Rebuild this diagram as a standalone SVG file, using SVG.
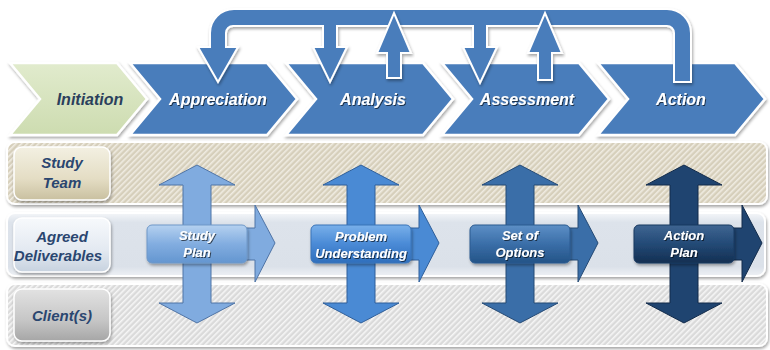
<svg xmlns="http://www.w3.org/2000/svg" width="770" height="350" viewBox="0 0 770 350">
<style>
.lbl{font-family:"Liberation Sans",Arial,sans-serif;font-weight:bold;font-style:italic;text-anchor:middle}
.phase{font-size:16px;fill:#ffffff}
.lane{font-size:15px;fill:#2a4670}
.box{font-size:13px;fill:#ffffff}
.chev{fill:#4a7dbb;stroke:#ffffff;stroke-width:2.5;stroke-linejoin:miter}
.loop{fill:#4a7dbb;stroke:#ffffff;stroke-width:2;stroke-linejoin:miter}
</style>
<defs>
<filter id="sh" x="-10%" y="-10%" width="120%" height="130%">
<feDropShadow dx="1" dy="2" stdDeviation="1.5" flood-color="#000" flood-opacity="0.35"/>
</filter>
<filter id="tsh" x="-10%" y="-20%" width="120%" height="150%">
<feDropShadow dx="1" dy="1" stdDeviation="0.7" flood-color="#000" flood-opacity="0.6"/>
</filter>
<pattern id="hatchT" width="4" height="4" patternUnits="userSpaceOnUse" patternTransform="rotate(45)">
<rect width="4" height="4" fill="#d6cfbb"/><rect width="1.6" height="4" fill="#f0ece2"/>
</pattern>
<pattern id="hatchC" width="4" height="4" patternUnits="userSpaceOnUse" patternTransform="rotate(45)">
<rect width="4" height="4" fill="#dadada"/><rect width="1.6" height="4" fill="#f6f6f6"/>
</pattern>
<linearGradient id="gLaneA" x1="0" y1="0" x2="0" y2="1">
<stop offset="0" stop-color="#f4f6f9"/><stop offset="0.15" stop-color="#dde3eb"/><stop offset="0.85" stop-color="#dbe1e9"/><stop offset="1" stop-color="#eef1f5"/>
</linearGradient>
<linearGradient id="gT" x1="0" y1="0" x2="0" y2="1">
<stop offset="0" stop-color="#f3f0e2"/><stop offset="0.6" stop-color="#e4ddc4"/><stop offset="1" stop-color="#c9c0a0"/>
</linearGradient>
<linearGradient id="gA" x1="0" y1="0" x2="0" y2="1">
<stop offset="0" stop-color="#f7f9fc"/><stop offset="0.6" stop-color="#e3e9f1"/><stop offset="1" stop-color="#c7d2df"/>
</linearGradient>
<linearGradient id="gC" x1="0" y1="0" x2="0" y2="1">
<stop offset="0" stop-color="#e2e2e2"/><stop offset="0.6" stop-color="#c6c6c6"/><stop offset="1" stop-color="#a6a6a6"/>
</linearGradient>
<linearGradient id="gInit" x1="0" y1="0" x2="0" y2="1">
<stop offset="0" stop-color="#e1ebcd"/><stop offset="1" stop-color="#cddcb0"/>
</linearGradient>
<linearGradient id="b1" x1="0" y1="0" x2="0" y2="1">
<stop offset="0" stop-color="#b5d1f0"/><stop offset="0.5" stop-color="#82ade0"/><stop offset="1" stop-color="#6496d0"/>
</linearGradient>
<linearGradient id="b2" x1="0" y1="0" x2="0" y2="1">
<stop offset="0" stop-color="#79b0ea"/><stop offset="0.5" stop-color="#4a8ad6"/><stop offset="1" stop-color="#2f6fbc"/>
</linearGradient>
<linearGradient id="b3" x1="0" y1="0" x2="0" y2="1">
<stop offset="0" stop-color="#5d8fc6"/><stop offset="0.5" stop-color="#3a6ea8"/><stop offset="1" stop-color="#245487"/>
</linearGradient>
<linearGradient id="b4" x1="0" y1="0" x2="0" y2="1">
<stop offset="0" stop-color="#3f6592"/><stop offset="0.5" stop-color="#234a76"/><stop offset="1" stop-color="#142f52"/>
</linearGradient>
</defs>

<rect width="770" height="350" fill="#ffffff"/>

<!-- Lanes -->
<g id="lane-study-team">
<rect x="7" y="142" width="760" height="62" rx="8" fill="url(#hatchT)" stroke="#ffffff" stroke-width="2" filter="url(#sh)"/>
<rect x="14" y="147" width="96" height="53" rx="8" fill="url(#gT)" stroke="#ffffff" stroke-width="1.5" filter="url(#sh)"/>
<text class="lbl lane" x="62" y="168">Study</text>
<text class="lbl lane" x="62" y="188">Team</text>
</g>
<g id="lane-agreed-deliverables">
<rect x="7" y="213" width="758" height="63" rx="8" fill="url(#gLaneA)" stroke="#ffffff" stroke-width="2" filter="url(#sh)"/>
<rect x="14" y="218" width="96" height="54" rx="8" fill="url(#gA)" stroke="#ffffff" stroke-width="1.5" filter="url(#sh)"/>
<text class="lbl lane" x="62" y="242">Agreed</text>
<text class="lbl lane" x="58" y="261">Deliverables</text>
</g>
<g id="lane-clients">
<rect x="7" y="284" width="760" height="62" rx="8" fill="url(#hatchC)" stroke="#ffffff" stroke-width="2" filter="url(#sh)"/>
<rect x="14" y="289" width="96" height="52" rx="8" fill="url(#gC)" stroke="#ffffff" stroke-width="1.5" filter="url(#sh)"/>
<text class="lbl lane" x="62" y="321">Client(s)</text>
</g>

<!-- Phase chevrons -->
<g id="phase-initiation">
<path d="M10,63 L117,63 L147,99 L117,135 L10,135 L40,99 Z" fill="url(#gInit)" stroke="#ffffff" stroke-width="2.5" filter="url(#sh)"/>
<text class="lbl" x="90" y="105" font-size="16" fill="#2a3f5c">Initiation</text>
</g>
<g id="phase-appreciation">
<path class="chev" d="M130,63 L267,63 L297,99 L267,135 L130,135 L160,99 Z" filter="url(#sh)"/>
<text class="lbl phase" x="218" y="105" filter="url(#tsh)">Appreciation</text>
</g>
<g id="phase-analysis">
<path class="chev" d="M286,63 L423,63 L453,99 L423,135 L286,135 L316,99 Z" filter="url(#sh)"/>
<text class="lbl phase" x="373" y="105" filter="url(#tsh)">Analysis</text>
</g>
<g id="phase-assessment">
<path class="chev" d="M442,63 L579,63 L609,99 L579,135 L442,135 L472,99 Z" filter="url(#sh)"/>
<text class="lbl phase" x="527" y="105" filter="url(#tsh)">Assessment</text>
</g>
<g id="phase-action">
<path class="chev" d="M598,63 L735,63 L765,99 L735,135 L598,135 L628,99 Z" filter="url(#sh)"/>
<text class="lbl phase" x="681" y="105" filter="url(#tsh)">Action</text>
</g>

<!-- Connectors -->
<g id="connectors">
<path class="loop" filter="url(#sh)" d="M674,82 L674,33 A7,7 0 0 0 667,26 L487,26 L487,47 L497,47 L480,83 L463,47 L473,47 L473,26 L337,26 L337,47 L347,47 L330,82 L313,47 L323,47 L323,26 L233,26 A7,7 0 0 0 226,33 L226,47 L238,47 L218,82 L198,47 L210,47 L210,33 A24,24 0 0 1 234,9 L667,9 A24,24 0 0 1 691,33 L691,82 Z"/>
<path class="loop" filter="url(#sh)" d="M387,78 L387,53 L377,53 L394,13 L411,53 L401,53 L401,78 Z"/>
<path class="loop" filter="url(#sh)" d="M538,80 L538,53 L528,53 L545,13 L562,53 L552,53 L552,80 Z"/>
<path fill="#80abdf" stroke="#4f74a6" stroke-width="1" d="M197,165 L235,185 L211,185 L211,303 L235,303 L197,323 L159,303 L183,303 L183,185 L159,185 Z"/>
<path fill="#4a8ad4" stroke="#2f5f9a" stroke-width="1" d="M361,165 L399,185 L375,185 L375,303 L399,303 L361,323 L323,303 L347,303 L347,185 L323,185 Z"/>
<path fill="#3a6ea8" stroke="#254a75" stroke-width="1" d="M520,165 L558,185 L534,185 L534,303 L558,303 L520,323 L482,303 L506,303 L506,185 L482,185 Z"/>
<path fill="#1f4470" stroke="#122b4a" stroke-width="1" d="M684,165 L722,185 L698,185 L698,303 L722,303 L684,323 L646,303 L670,303 L670,185 L646,185 Z"/>
</g>

<!-- Deliverables -->
<g id="deliverable-study-plan">
<path fill="#80abdf" stroke="#4f74a6" stroke-width="1" d="M237,228 L255,228 L255,205 L275,243 L255,282 L255,260 L237,260 Z"/>
<rect x="147" y="225" width="100" height="38" rx="5" fill="url(#b1)" stroke="#6f98c8" stroke-width="1" filter="url(#sh)"/>
<text class="lbl box" x="197" y="240" filter="url(#tsh)">Study</text>
<text class="lbl box" x="197" y="257" filter="url(#tsh)">Plan</text>
</g>
<g id="deliverable-problem-understanding">
<path fill="#4a8ad4" stroke="#2f5f9a" stroke-width="1" d="M401,228 L419,228 L419,205 L439,243 L419,282 L419,260 L401,260 Z"/>
<rect x="311" y="225" width="100" height="38" rx="5" fill="url(#b2)" stroke="#3b74b8" stroke-width="1" filter="url(#sh)"/>
<text class="lbl box" x="361" y="241" filter="url(#tsh)">Problem</text>
<text class="lbl box" x="361" y="258" filter="url(#tsh)">Understanding</text>
</g>
<g id="deliverable-set-of-options">
<path fill="#3a6ea8" stroke="#254a75" stroke-width="1" d="M560,228 L578,228 L578,205 L598,243 L578,282 L578,260 L560,260 Z"/>
<rect x="470" y="225" width="100" height="38" rx="5" fill="url(#b3)" stroke="#2a5b90" stroke-width="1" filter="url(#sh)"/>
<text class="lbl box" x="520" y="240" filter="url(#tsh)">Set of</text>
<text class="lbl box" x="520" y="257" filter="url(#tsh)">Options</text>
</g>
<g id="deliverable-action-plan">
<path fill="#1f4470" stroke="#122b4a" stroke-width="1" d="M724,228 L742,228 L742,205 L762,243 L742,282 L742,260 L724,260 Z"/>
<rect x="634" y="225" width="100" height="38" rx="5" fill="url(#b4)" stroke="#1a3a60" stroke-width="1" filter="url(#sh)"/>
<text class="lbl box" x="684" y="240" filter="url(#tsh)">Action</text>
<text class="lbl box" x="684" y="257" filter="url(#tsh)">Plan</text>
</g>
</svg>
